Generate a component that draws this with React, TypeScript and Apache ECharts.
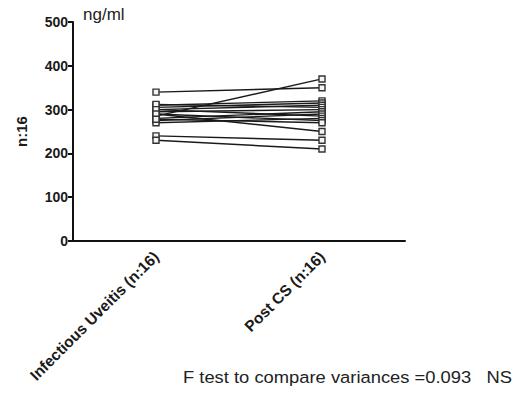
import React, { useEffect, useRef } from "react";
import * as echarts from "echarts";

const categories = ["Infectious Uveitis (n:16)", "Post CS (n:16)"];
const before = [340, 285, 240, 230, 290, 310, 305, 300, 312, 295, 280, 275, 300, 270, 290, 278];
const after = [350, 370, 230, 210, 250, 320, 315, 310, 305, 300, 295, 290, 285, 280, 275, 270];
const yTicks = [0, 100, 200, 300, 400, 500];
const unitLabel = "ng/ml";
const yName = "n:16";
const footnote = "F test to compare variances =0.093   NS";

export default function App() {
  const ref = useRef<HTMLDivElement>(null);
  useEffect(() => {
    document.body.style.margin = "0";
    if (!ref.current) return;
    const chart = echarts.init(ref.current, undefined, { renderer: "svg" });
    const series = before.map((b, i) => ({
      type: "line" as const,
      data: [b, after[i]],
      symbol: "rect",
      symbolSize: 6,
      lineStyle: { color: "#1a1a1a", width: 1.4 },
      itemStyle: { color: "#f4f4f4", borderColor: "#333", borderWidth: 1.4 },
      z: 2,
    }));
    chart.setOption({
      animation: false,
      backgroundColor: "#fff",
      grid: { left: 73, right: 121, top: 22, bottom: 152 },
      xAxis: {
        type: "category",
        data: categories,
        boundaryGap: true,
        axisLine: { lineStyle: { color: "#111", width: 2 } },
        axisTick: { alignWithLabel: true, length: 5, lineStyle: { color: "#111", width: 2 } },
        axisLabel: {
          rotate: 45,
          fontFamily: "Liberation Sans, Arial",
          fontWeight: "bold",
          fontSize: 15.5,
          color: "#1a1a1a",
          margin: 13,
        },
      },
      yAxis: {
        type: "value",
        min: yTicks[0],
        max: yTicks[yTicks.length - 1],
        interval: 100,
        name: yName,
        nameLocation: "middle",
        nameGap: 44,
        nameTextStyle: { fontFamily: "Liberation Sans, Arial", fontWeight: "bold", fontSize: 15, color: "#1a1a1a" },
        axisLine: { show: true, lineStyle: { color: "#111", width: 2 } },
        axisTick: { show: true, length: 5, lineStyle: { color: "#111", width: 2 } },
        splitLine: { show: false },
        axisLabel: {
          fontFamily: "Liberation Sans, Arial",
          fontWeight: "bold",
          fontSize: 14,
          color: "#1a1a1a",
          margin: 5,
        },
      },
      graphic: [
        {
          type: "text",
          left: 83,
          top: 6,
          style: { text: unitLabel, font: "17px 'Liberation Sans', Arial", fill: "#222" },
        },
        {
          type: "text",
          x: 183,
          y: 369,
          scaleX: 1.08,
          style: { text: footnote, font: "17px 'Liberation Sans', Arial", fill: "#222" },
        },
      ],
      series,
    });
    return () => chart.dispose();
  }, []);
  return <div ref={ref} style={{ width: 526, height: 393 }} />;
}
